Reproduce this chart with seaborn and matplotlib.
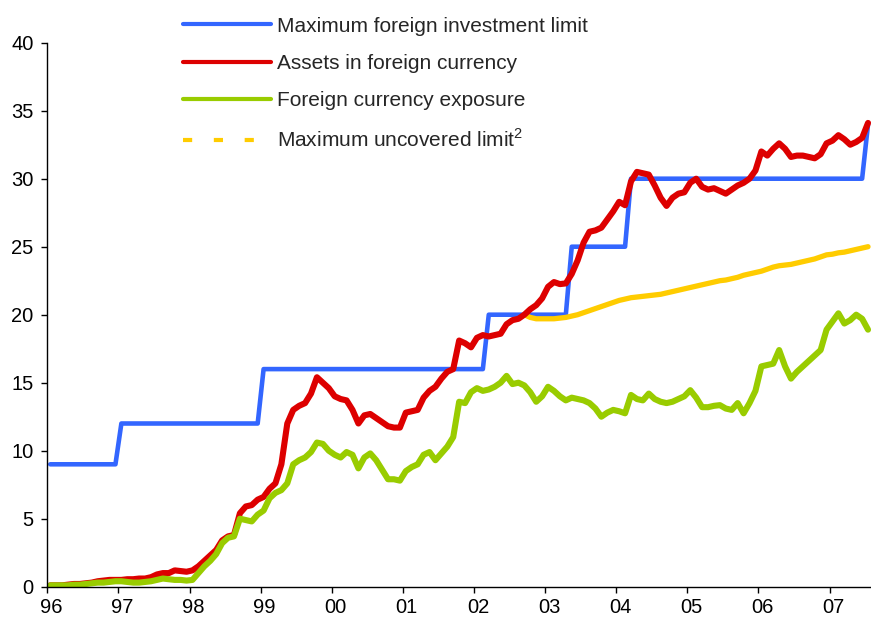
import numpy as np
import pandas as pd
import matplotlib
matplotlib.use("Agg")
import matplotlib.pyplot as plt
import matplotlib.transforms as mtransforms
from matplotlib.lines import Line2D
import seaborn as sns

# monthly data, Jan 1996 .. Jul 2007 (139 months)
max_investment = ([9] * 12 + [12] * 24 + [16] * 38 + [20] * 14 + [25] * 10
                  + [30] * 40 + [34])

assets_foreign = [
    0.1, 0.1, 0.1, 0.15, 0.2, 0.2, 0.25, 0.3, 0.4, 0.45, 0.5, 0.5,
    0.5, 0.55, 0.55, 0.6, 0.6, 0.7, 0.9, 1.0, 1.0, 1.2, 1.15, 1.1,
    1.2, 1.5, 1.9, 2.3, 2.7, 3.4, 3.7, 3.8, 5.4, 5.9, 6.0, 6.4,
    6.6, 7.2, 7.6, 9.0, 12.0, 13.0, 13.3, 13.5, 14.2, 15.4, 15.0, 14.6,
    14.0, 13.8, 13.7, 13.0, 12.0, 12.6, 12.7, 12.4, 12.1, 11.8, 11.7, 11.7,
    12.8, 12.9, 13.0, 13.9, 14.4, 14.7, 15.3, 15.8, 16.0, 18.1, 17.9, 17.6,
    18.3, 18.5, 18.4, 18.5, 18.6, 19.3, 19.6, 19.7, 20.0, 20.4, 20.7, 21.2,
    22.05, 22.4, 22.25, 22.3, 23.0, 24.0, 25.3, 26.1, 26.2, 26.4, 27.0, 27.6,
    28.3, 28.05, 29.8, 30.5, 30.4, 30.3, 29.5, 28.6, 28.0, 28.6, 28.9, 29.0,
    29.7, 30.0, 29.4, 29.2, 29.3, 29.1, 28.9, 29.2, 29.5, 29.7, 30.0, 30.6,
    32.0, 31.7, 32.2, 32.6, 32.2, 31.6, 31.7, 31.7, 31.6, 31.5, 31.8, 32.6,
    32.8, 33.2, 32.9, 32.5, 32.7, 33.0, 34.1,
]

fx_exposure = [
    0.1, 0.1, 0.1, 0.1, 0.15, 0.15, 0.2, 0.25, 0.3, 0.3, 0.35, 0.4,
    0.4, 0.35, 0.3, 0.3, 0.35, 0.4, 0.5, 0.6, 0.55, 0.5, 0.5, 0.45,
    0.5, 1.0, 1.5, 1.9, 2.4, 3.2, 3.6, 3.7, 5.0, 4.9, 4.8, 5.3,
    5.6, 6.5, 6.9, 7.1, 7.6, 9.0, 9.3, 9.5, 9.9, 10.6, 10.5, 10.0,
    9.7, 9.5, 9.9, 9.7, 8.7, 9.5, 9.8, 9.3, 8.6, 7.9, 7.9, 7.8,
    8.5, 8.8, 9.0, 9.7, 9.9, 9.3, 9.8, 10.3, 11.0, 13.6, 13.5, 14.3,
    14.6, 14.4, 14.5, 14.7, 15.0, 15.5, 14.9, 15.0, 14.8, 14.3, 13.6, 14.0,
    14.7, 14.4, 14.0, 13.7, 13.9, 13.8, 13.7, 13.5, 13.1, 12.5, 12.8, 13.0,
    12.9, 12.75, 14.1, 13.8, 13.7, 14.2, 13.8, 13.6, 13.5, 13.6, 13.8, 14.0,
    14.45, 13.9, 13.2, 13.2, 13.3, 13.35, 13.1, 13.0, 13.5, 12.75, 13.5, 14.4,
    16.2, 16.3, 16.4, 17.4, 16.2, 15.3, 15.8, 16.2, 16.6, 17.0, 17.4, 18.9,
    19.5, 20.1, 19.35, 19.6, 20.0, 19.7, 18.9,
]

# uncovered limit starts in Sep 2002 (month index 80)
uncovered_start = 80
uncovered_limit = [
    20.0, 19.8, 19.7, 19.7, 19.7, 19.7, 19.75, 19.8, 19.9, 20.0, 20.15, 20.3,
    20.45, 20.6, 20.75, 20.9, 21.05, 21.15, 21.25, 21.3, 21.35, 21.4, 21.45, 21.5,
    21.6, 21.7, 21.8, 21.9, 22.0, 22.1, 22.2, 22.3, 22.4, 22.5, 22.55, 22.65,
    22.75, 22.9, 23.0, 23.1, 23.2, 23.35, 23.5, 23.6, 23.65, 23.7, 23.8, 23.9,
    24.0, 24.1, 24.25, 24.4, 24.45, 24.55, 24.6, 24.7, 24.8, 24.9, 25.0,
]

labels = ["Maximum foreign investment limit", "Assets in foreign currency",
          "Foreign currency exposure", "Maximum uncovered limit$^{\\mathrm{2}}$"]
colors = ["#3366FF", "#DD0000", "#99CC00", "#FFCC00"]

n = len(assets_foreign)
months = 96 + (np.arange(n) + 0.5) / 12
df = pd.DataFrame({"x": months, "blue": max_investment, "red": assets_foreign,
                   "green": fx_exposure})
df_unc = pd.DataFrame({"x": months[uncovered_start:], "y": uncovered_limit})

sns.set_theme(style="white")
plt.rcParams["font.family"] = ["Liberation Sans", "DejaVu Sans"]
plt.rcParams["mathtext.fontset"] = "custom"
plt.rcParams["mathtext.rm"] = "Liberation Sans"

fig = plt.figure(figsize=(8.71, 6.25), dpi=100)
ax = fig.add_axes([47.3 / 871, 38.3 / 625, (871 - 47.3) / 871, 544 / 625])

sns.lineplot(data=df, x="x", y="blue", ax=ax, color=colors[0], lw=3.3)
sns.lineplot(data=df_unc, x="x", y="y", ax=ax, color=colors[3], lw=3.8)
sns.lineplot(data=df, x="x", y="red", ax=ax, color=colors[1], lw=4.4)
sns.lineplot(data=df, x="x", y="green", ax=ax, color=colors[2], lw=4.4)

ax.set_xlim(96, 96 + n / 12)
ax.set_ylim(0, 40)
ax.set_yticks(range(0, 41, 5))
years = list(range(96, 108))
ax.set_xticks(years)
ax.set_xticklabels([f"{y % 100:02d}" for y in years])
ax.set_xlabel("")
ax.set_ylabel("")

for s in ["top", "right"]:
    ax.spines[s].set_visible(False)
for s in ["left", "bottom"]:
    ax.spines[s].set_color("black")
    ax.spines[s].set_linewidth(1.0)

ax.tick_params(axis="both", which="major", labelsize=14.5, colors="black",
               length=4, width=1.0, direction="out")
ax.tick_params(axis="y", pad=6)
ax.tick_params(axis="x", pad=4, bottom=True)
ax.tick_params(axis="y", left=True)

shift = mtransforms.ScaledTranslation(4 / 100, 0, fig.dpi_scale_trans)
for lab in ax.get_xticklabels():
    lab.set_transform(lab.get_transform() + shift)

handles = [
    Line2D([], [], color=colors[0], lw=3.0),
    Line2D([], [], color=colors[1], lw=3.0),
    Line2D([], [], color=colors[2], lw=3.0),
    Line2D([], [], color=colors[3], lw=3.0, linestyle=(0, (2.2, 5.2)), dash_capstyle="butt"),
]
ax.legend(handles=handles, labels=labels, loc="upper left",
          bbox_to_anchor=(183 / 871, 1 - 16.5 / 625), bbox_transform=fig.transFigure,
          frameon=False, borderpad=0, borderaxespad=0, handlelength=4.2,
          handletextpad=0.32, labelspacing=0.88, fontsize=15)

fig.savefig("out.png", dpi=100)
